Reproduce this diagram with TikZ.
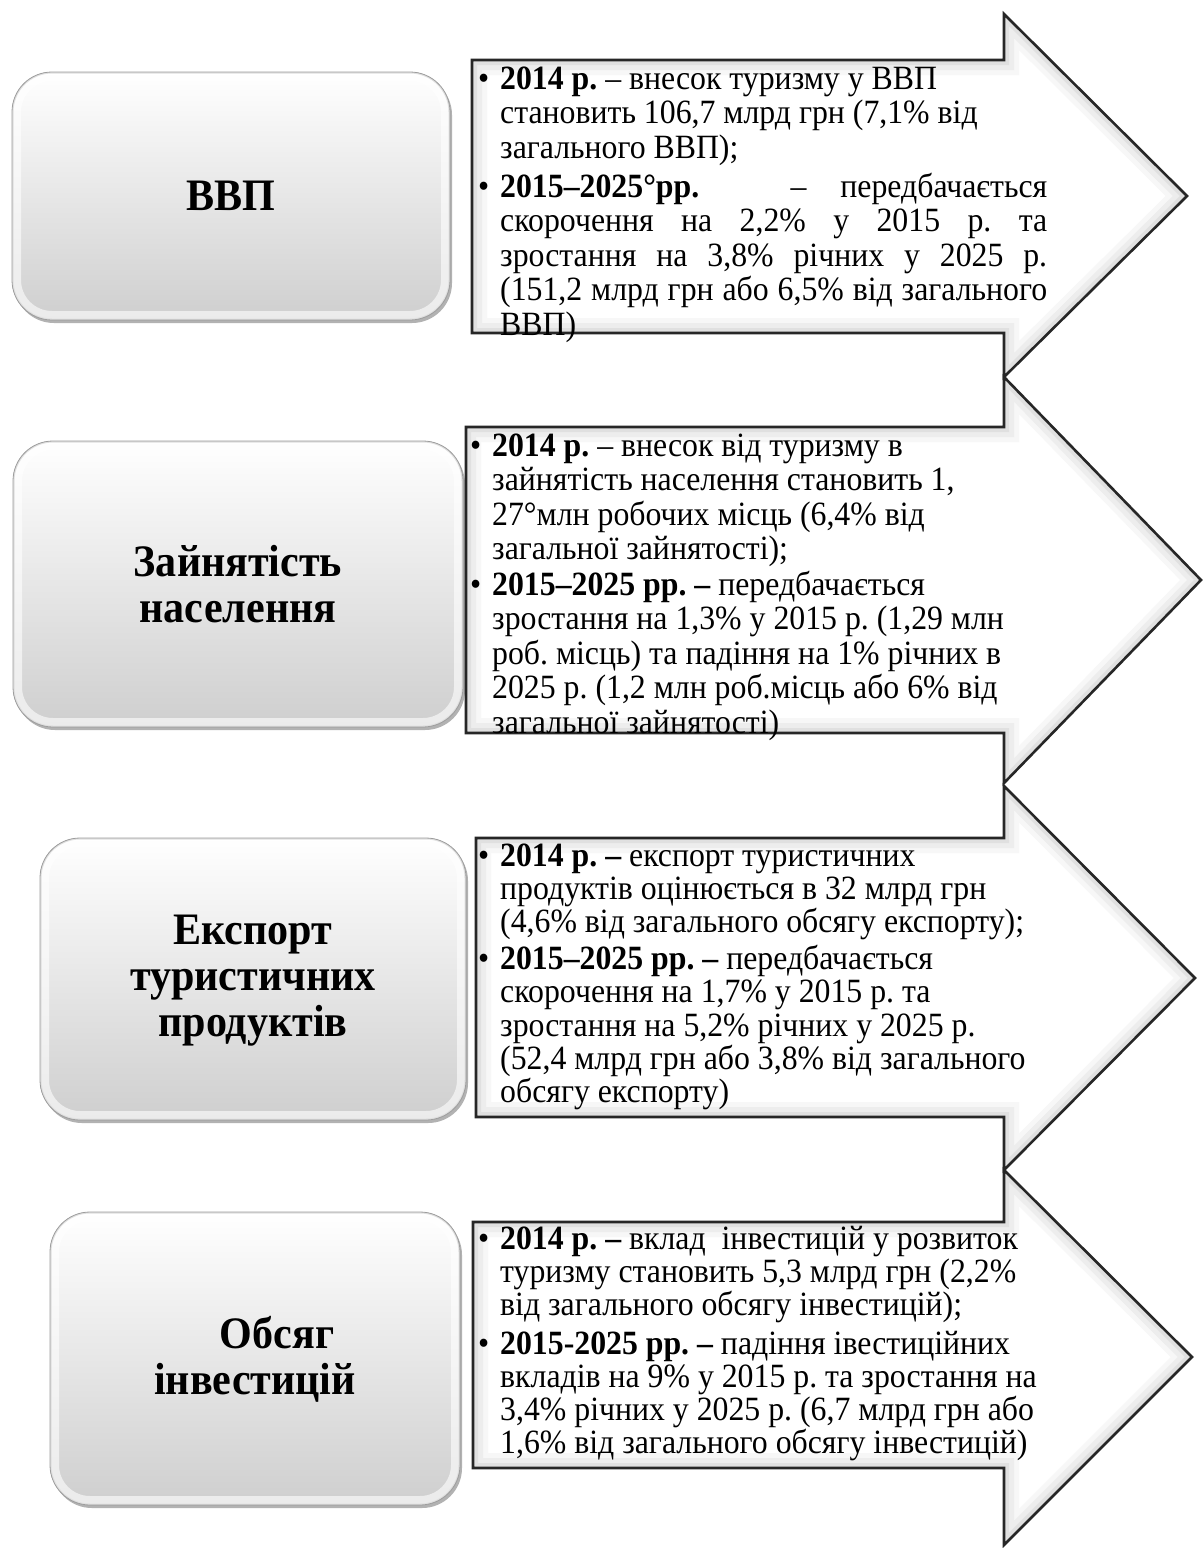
\documentclass[tikz,border=0pt]{standalone}
\usepackage{fontspec}
\setmainfont[FakeStretch=0.935]{Liberation Serif}
\frenchspacing
\begin{document}
\begin{tikzpicture}[x=1pt,y=-1pt,
  bodytext/.style={anchor=base west, inner sep=0pt, font=\fontsize{34}{34.5}\selectfont\frenchspacing},
  labeltext/.style={align=center, inner sep=0pt, font=\fontsize{45}{46}\selectfont\bfseries}]
\useasboundingbox (0,0) rectangle (1203,1548);
\fill[white] (0,0) rectangle (1203,1548);

% arrow outline: L, T, B, HT, HB, tipX, tipY
\def\arrowpath#1#2#3#4#5#6#7{(#1,#2) -- (1004,#2) -- (1004,#4) -- (#6,#7) -- (1004,#5) -- (1004,#3) -- (#1,#3) -- cycle}
\newcommand\drawarrow[7]{%
  \fill[white] \arrowpath{#1}{#2}{#3}{#4}{#5}{#6}{#7};
  \begin{scope}
    \clip \arrowpath{#1}{#2}{#3}{#4}{#5}{#6}{#7};
    \draw[line width=30pt, black!3, line join=miter] \arrowpath{#1}{#2}{#3}{#4}{#5}{#6}{#7};
    \draw[line width=20pt, black!7, line join=miter] \arrowpath{#1}{#2}{#3}{#4}{#5}{#6}{#7};
    \draw[line width=10pt, black!12, line join=miter] \arrowpath{#1}{#2}{#3}{#4}{#5}{#6}{#7};
  \end{scope}
  \draw[line width=2.6pt, black!85, line join=miter] \arrowpath{#1}{#2}{#3}{#4}{#5}{#6}{#7};
}
% left rounded box: x1, y1, x2, y2
\newcommand\drawbox[4]{%
  \fill[black!30, rounded corners=40pt] (#1+2,#2+3) rectangle (#3+2,#4+3);
  \fill[top color=white, bottom color=black!19, rounded corners=40pt] (#1,#2) rectangle (#3,#4);
  \begin{scope}
    \clip[rounded corners=40pt] (#1,#2) rectangle (#3,#4);
    \draw[line width=18pt, white, opacity=0.6, rounded corners=40pt] (#1,#2) rectangle (#3,#4);
    \draw[line width=3pt, black!12, rounded corners=40pt] (#1,#2) rectangle (#3,#4);
  \end{scope}
  \draw[line width=0.8pt, black!38, rounded corners=40pt] (#1,#2) rectangle (#3,#4);
}
\newcommand\bul{\leavevmode\llap{\makebox[22pt][l]{•}}}

% ---------- boxes ----------
\drawbox{12}{72}{450}{320}
\drawbox{13}{441}{463}{727}
\drawbox{40}{838}{466}{1120}
\drawbox{50}{1212}{460}{1505}

\node[labeltext] (l1) at (231,196) {ВВП};
\node[labeltext] (l2) at (238,584) {Зайнятість\\населення};
\node[labeltext] (l3) at (253,981) {Експорт\\туристичних\\продуктів};
\node[labeltext] (l4) at (255,1359) {\hspace*{44pt}Обсяг\\інвестицій};

% ---------- arrows ----------
\drawarrow{472}{60}{333}{14}{377}{1187}{196}
\drawarrow{466}{427}{733}{377}{783}{1201}{580}
\drawarrow{476}{838}{1117}{786}{1170}{1195}{978}
\drawarrow{473}{1222}{1468}{1170}{1545}{1192}{1357}

% ---------- texts ----------
\node[bodytext] (t1) at (500,89) {\parbox[t]{547pt}{%
\bul\textbf{2014 р.} – внесок туризму у ВВП\\
становить 106,7 млрд грн (7,1\% від\\
загального ВВП);\par\vspace{4.5pt}
\bul\makebox[547pt]{\textbf{2015–2025°рр.}\hspace{0pt plus 2.7fill}–\hspace{0pt plus 1fill}передбачається}\\
\makebox[547pt][s]{скорочення на 2,2\% у 2015 р. та}\\
\makebox[547pt][s]{зростання на 3,8\% річних у 2025 р.}\\
\makebox[547pt][s]{(151,2 млрд грн або 6,5\% від загального}\\
ВВП)}};

\node[bodytext] (t2) at (492,456) {\parbox[t]{700pt}{\raggedright
\bul\textbf{2014 р.} – внесок від туризму в\\
зайнятість населення становить 1,\\
27°млн робочих місць (6,4\% від\\
загальної зайнятості);\par\vspace{1pt}
\bul\textbf{2015–2025 рр. –} передбачається\\
зростання на 1,3\% у 2015 р. (1,29 млн\\
роб. місць) та падіння на 1\% річних в\\
2025 р. (1,2 млн роб.місць або 6\% від\\
загальної зайнятості)}};

\node[bodytext, font=\fontsize{34}{33.2}\selectfont\frenchspacing] (t3) at (500,866) {\parbox[t]{700pt}{\raggedright
\bul\textbf{2014 р. –} експорт туристичних\\
продуктів оцінюється в 32 млрд грн\\
(4,6\% від загального обсягу експорту);\par\vspace{4pt}
\bul\textbf{2015–2025 рр. –} передбачається\\
скорочення на 1,7\% у 2015 р. та\\
зростання на 5,2\% річних у 2025 р.\\
(52,4 млрд грн або 3,8\% від загального\\
обсягу експорту)}};

\node[bodytext, font=\fontsize{34}{33}\selectfont\frenchspacing] (t4) at (500,1249) {\parbox[t]{700pt}{\raggedright
\bul\textbf{2014 р. –} вклад\ \ інвестицій у розвиток\\
туризму становить 5,3 млрд грн (2,2\%\\
від загального обсягу інвестицій);\par\vspace{6pt}
\bul\textbf{2015-2025 рр. –} падіння івестиційних\\
вкладів на 9\% у 2015 р. та зростання на\\
3,4\% річних у 2025 р. (6,7 млрд грн або\\
1,6\% від загального обсягу інвестицій)}};
\end{tikzpicture}
\end{document}
